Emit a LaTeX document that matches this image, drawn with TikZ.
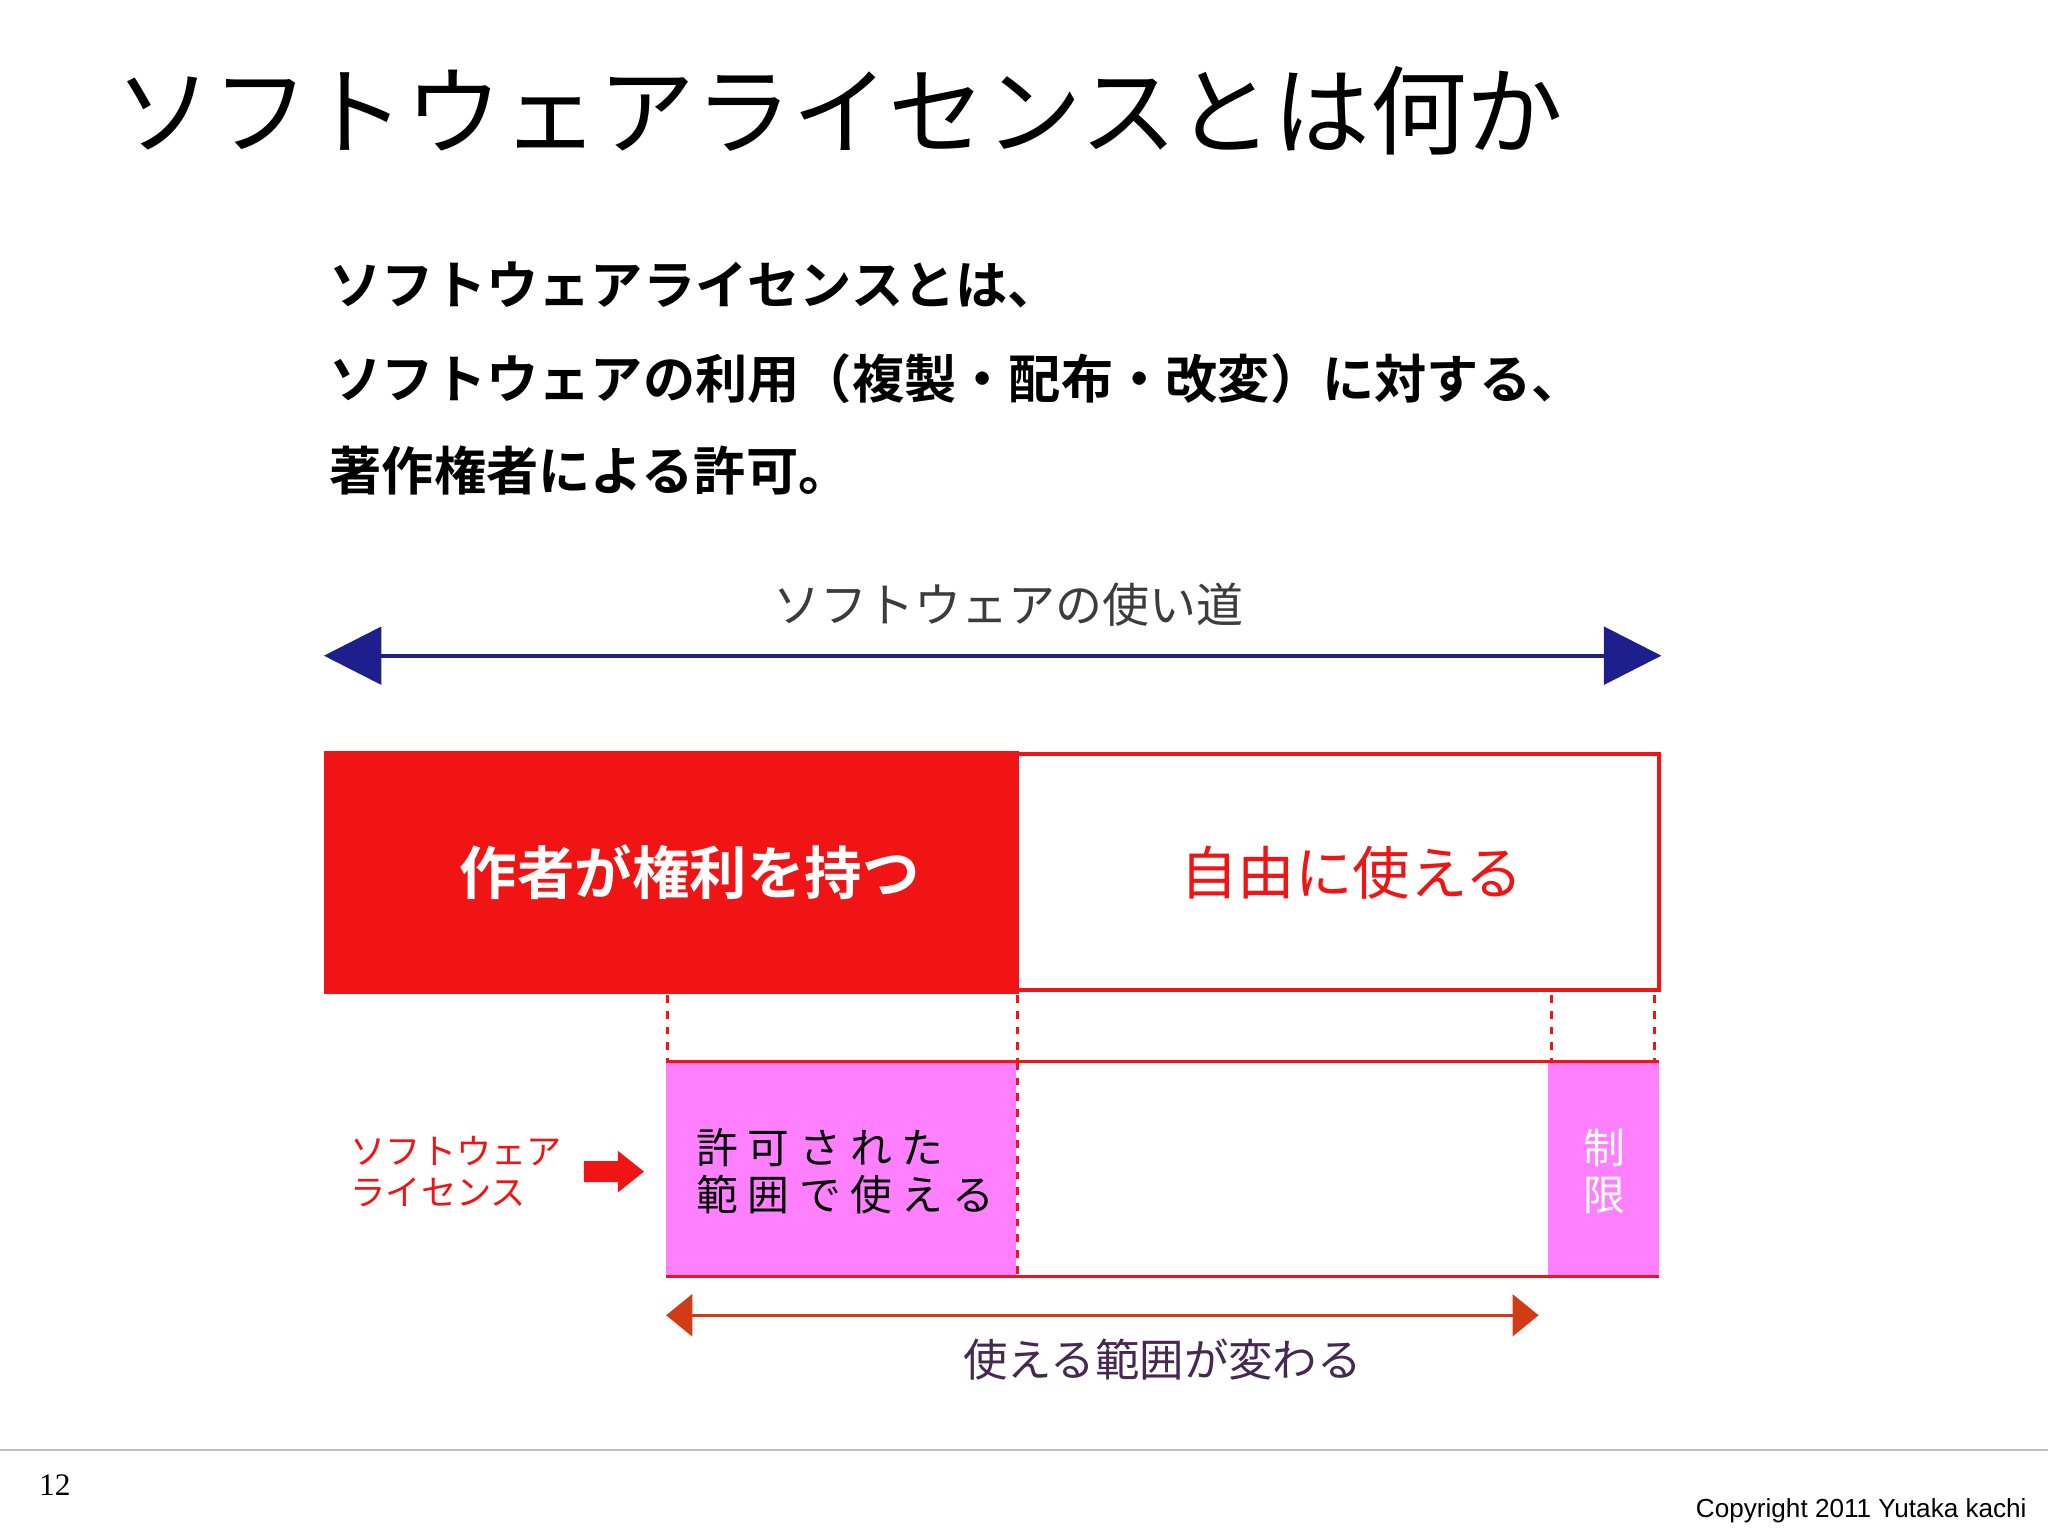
\documentclass[tikz,border=0pt]{standalone}
\usepackage{fontspec}
\setmainfont{Liberation Sans}
\newfontfamily\jp{Noto Sans CJK JP}
\newfontfamily\jpb{Noto Sans CJK JP Bold}
\usetikzlibrary{arrows.meta}
\definecolor{rred}{RGB}{240,20,20}
\definecolor{pinkk}{RGB}{255,128,255}
\definecolor{navy}{RGB}{30,30,140}
\definecolor{orr}{RGB}{210,60,20}
\definecolor{txtg}{RGB}{60,60,60}
\definecolor{txtp}{RGB}{70,40,80}
\tikzset{dl/.style={rred,dashed,line width=1.2pt},
 lab/.style={inner sep=0pt,font=\jp}}
\begin{document}
\begin{tikzpicture}[x=0.5pt,y=-0.5pt]
\useasboundingbox[fill=white] (0,0) rectangle (1568,1175);
\node[lab,anchor=west,font=\jp\fontsize{37}{40}\selectfont] (title) at (88,85) {ソフトウェアライセンスとは何か};
\node[lab,anchor=west,font=\jpb\fontsize{20}{24}\selectfont] (l1) at (252,218) {ソフトウェアライセンスとは、};
\node[lab,anchor=west,font=\jpb\fontsize{20}{24}\selectfont] (l2) at (252,290) {ソフトウェアの利用（複製・配布・改変）に対する、};
\node[lab,anchor=west,font=\jpb\fontsize{20}{24}\selectfont] (l3) at (252,360) {著作権者による許可。};
\node[lab,text=txtg,font=\jp\fontsize{18}{20}\selectfont] (use) at (772,463) {ソフトウェアの使い道};
\coordinate (ba) at (248,502); \coordinate (bb) at (1272,502);
\draw[navy,line width=1.5pt,{Triangle[length=22pt,width=22pt]}-{Triangle[length=22pt,width=22pt]}] (ba) -- (bb);
\draw[rred,line width=1.5pt] (779,577) rectangle (1270,758);
\fill[rred] (248,575) rectangle (780,761);
\coordinate (own) at (528,668); \coordinate (free) at (1035,668);
\node[lab,text=white,font=\jpb\fontsize{22}{24}\selectfont] at (own) {作者が権利を持つ};
\node[lab,text=rred,font=\jp\fontsize{22}{24}\selectfont] at (free) {自由に使える};
\foreach \x in {511,779,1188,1267} \draw[dl] (\x,762) -- (\x,812);
\fill[pinkk] (510,813) rectangle (778,977);
\fill[pinkk] (1185,813) rectangle (1270,977);
\draw[rred,line width=1.2pt] (510,813) -- (1270,813) (510,977) -- (1270,977);
\draw[dl] (779,813) -- (779,977);
\node[lab,anchor=west,align=left,font=\jp\fontsize{16}{18}\selectfont] at (533,897) {許 可 さ れ た\\範 囲 で 使 え る};
\node[lab,text=white,align=center,font=\jp\fontsize{16}{18}\selectfont] at (1228,897) {制\\限};
\node[lab,text=rred,align=left,anchor=west,font=\jp\fontsize{13.5}{15.5}\selectfont] (sl) at (268,897) {ソフトウェア\\ライセンス};
\fill[rred] (447,889) -- (473,889) -- (473,881) -- (493,897) -- (473,913) -- (473,905) -- (447,905) -- cycle;
\coordinate (oa) at (510,1007); \coordinate (ob) at (1178,1007);
\draw[orr,line width=1.2pt,{Triangle[length=10pt,width=16pt]}-{Triangle[length=10pt,width=16pt]}] (oa) -- (ob);
\node[lab,text=txtp,font=\jp\fontsize{17}{18}\selectfont] (chg) at (890,1041) {使える範囲が変わる};
\draw[gray!50,line width=1pt] (0,1110) -- (1568,1110);
\node[lab,font=\fontspec{Liberation Serif}\fontsize{12}{14}\selectfont] (pg) at (42,1137) {12};
\node[lab,anchor=east,font=\fontsize{10}{12}\selectfont] (cp) at (1552,1157) {Copyright 2011 Yutaka kachi};
\end{tikzpicture}
\end{document}
